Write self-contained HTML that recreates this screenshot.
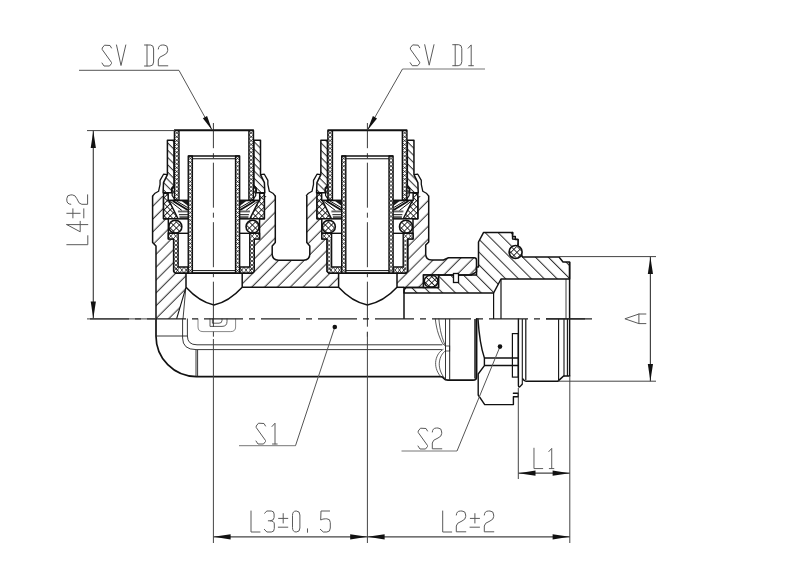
<!DOCTYPE html>
<html><head><meta charset="utf-8"><title>drawing</title>
<style>html,body{margin:0;padding:0;background:#fff;font-family:"Liberation Sans",sans-serif;}
svg{display:block}</style></head>
<body><svg width="800" height="580" viewBox="0 0 800 580">
<rect width="800" height="580" fill="#fff"/>
<defs>
<pattern id="hB" width="9.086" height="9.086" patternUnits="userSpaceOnUse" patternTransform="rotate(45)">
  <line x1="8.45" y1="-1" x2="8.45" y2="10" stroke="#111" stroke-width="0.9"/>
</pattern>
<pattern id="hN" width="9.086" height="9.086" patternUnits="userSpaceOnUse" patternTransform="rotate(-45)">
  <line x1="6.01" y1="-1" x2="6.01" y2="10" stroke="#111" stroke-width="0.9"/>
</pattern>
<pattern id="hNut" width="5.16" height="5.16" patternUnits="userSpaceOnUse" patternTransform="rotate(-45)">
  <line x1="2" y1="-1" x2="2" y2="7" stroke="#111" stroke-width="0.9"/>
</pattern>
<pattern id="xF" width="3.2" height="3.2" patternUnits="userSpaceOnUse" patternTransform="rotate(45)">
  <path d="M0,1.6H3.2M1.6,0V3.2" stroke="#1a1a1a" stroke-width="0.95" fill="none"/>
</pattern>
<pattern id="xC" width="4.3" height="4.3" patternUnits="userSpaceOnUse" patternTransform="rotate(45)">
  <path d="M0,2.15H4.3M2.15,0V4.3" stroke="#111" stroke-width="0.8" fill="none"/>
</pattern>
</defs>
<path d="M156,318.9 L156,246 L152.6,242.5 L152.6,196 L159.7,190.5 L268.2,190.5 L275.2,196 L275.2,242 L272.1,245 L272.1,254.5 Q272.1,260.2 277.8,260.2 L304.2,260.2 Q309.7,260.2 309.7,254.5 L309.7,245 L306.3,242 L306.3,196 L313.6,190.5 L421.5,190.5 L428.7,196 L428.7,242 L425.7,245 L425.7,254 Q425.7,260 431.8,260 L443.5,260 L448,257.8 L474.3,257.8 Q476.5,257.8 476.5,260.2 L476.5,271.8 L471,275 L423.5,275 L423.5,287.5 L404,287.5 L404,287.3 L185.8,287.3 L176.6,318.9 Z" fill="url(#hB)" stroke="none" stroke-width="1.5" stroke-linejoin="round" stroke-linecap="round" />
<path d="M156,318.9 L156,246 L152.6,242.5 L152.6,196" fill="none" stroke="#111" stroke-width="1.5" stroke-linejoin="round" stroke-linecap="round" />
<path d="M275.3,196 L275.3,242.5 L272.2,246 L272.2,254 Q272.2,260.2 278.5,260.2 L303.5,260.2 Q309.8,260.2 309.8,254 L309.8,246 L306.8,242.5 L306.8,196" fill="none" stroke="#111" stroke-width="1.5" stroke-linejoin="round" stroke-linecap="round" />
<path d="M428.7,196 L428.7,242 L425.7,245 L425.7,254 Q425.7,260 431.8,260 L443.5,260 L448,257.8 L474.3,257.8 Q476.5,257.8 476.5,260.2 L476.5,271.8 L471,275 L423.5,275 L423.5,287.5 L404,287.5" fill="none" stroke="#111" stroke-width="1.5" stroke-linejoin="round" stroke-linecap="round" />
<path d="M404,293 L404,290 L406,287.5 L438.5,287.5 L438.5,275 L476.5,275 L476.5,267 L478.5,267 L478.5,242 L483.6,232.4 L512.6,232.4 L512.6,239 L518,239.5 L518,246 L522.5,257 L559,257 L563,262 L569.6,262 L569.6,279 L501,279 L493.6,293 Z" fill="url(#hN)" stroke="#111" stroke-width="1.5" stroke-linejoin="round" stroke-linecap="round" />
<path d="M512.6,232.4 L512.6,236.5 L515.3,236.5 L515.3,239.5 L518,239.5 L518,245" fill="#fff" stroke="#111" stroke-width="1.5" stroke-linejoin="round" stroke-linecap="round" />
<rect x="423.5" y="275" width="15" height="12.5" fill="#fff" stroke="#111" stroke-width="1.5"/>
<rect x="424.3" y="275.6" width="13.6" height="11.4" rx="5.6" ry="5.4" fill="url(#xC)" stroke="#111" stroke-width="1.5"/>
<circle cx="515.6" cy="252" r="6.5" fill="#fff" stroke="#111" stroke-width="1.6"/>
<circle cx="515.6" cy="252" r="5.8" fill="url(#xC)" stroke="none"/>
<rect x="453.5" y="273.5" width="5" height="9" fill="#fff" stroke="#111" stroke-width="1.3"/>
<line x1="404.00" y1="287.50" x2="404.00" y2="318.90" stroke="#111" stroke-width="1.5" />
<line x1="493.60" y1="293.00" x2="493.60" y2="318.90" stroke="#111" stroke-width="1.2" />
<line x1="501.00" y1="279.00" x2="501.00" y2="318.90" stroke="#111" stroke-width="1.2" />
<line x1="566.00" y1="279.00" x2="566.00" y2="318.90" stroke="#111" stroke-width="0.8" />
<line x1="569.60" y1="262.00" x2="569.60" y2="318.90" stroke="#111" stroke-width="1.5" />
<polygon points="163.55,172.00 163.55,218.85 168.35,218.85 168.35,238.90 173.65,238.90 173.65,273.00 254.25,273.00 254.25,238.90 259.55,238.90 259.55,218.85 264.35,218.85 264.35,172.00" fill="#fff" stroke="none" stroke-width="1.5" stroke-linejoin="round" />
<path d="M186,273 L186,287.3 C194,296 203.95,303 213.95,305 C223.95,303 234.2,296 242.2,287.3 L242.2,273 Z" fill="#fff" stroke="#111" stroke-width="1.5" stroke-linejoin="round" stroke-linecap="round" />
<polyline points="163.55,193.20 163.55,218.85 168.35,218.85 168.35,238.90 173.65,238.90 173.65,271.50 175.45,273.20 191.95,273.20" fill="none" stroke="#111" stroke-width="1.5" stroke-linejoin="round" />
<polyline points="264.35,193.20 264.35,218.85 259.55,218.85 259.55,238.90 254.25,238.90 254.25,271.50 252.45,273.20 235.95,273.20" fill="none" stroke="#111" stroke-width="1.5" stroke-linejoin="round" />
<line x1="191.95" y1="273.20" x2="235.95" y2="273.20" stroke="#111" stroke-width="1.5" />
<line x1="192.15" y1="270.60" x2="235.75" y2="270.60" stroke="#111" stroke-width="1.0" />
<polygon points="152.65,196.00 155.05,193.20 158.55,191.30 160.05,184.30 160.05,180.40 163.55,174.20 167.45,174.60 163.55,182.70 163.15,192.80 163.15,196.00" fill="#fff" stroke="none" stroke-width="1.5" stroke-linejoin="round" />
<polyline points="152.65,196.00 155.05,193.20 158.55,191.30 160.05,184.30 160.05,180.40 163.55,174.20 167.45,174.60" fill="none" stroke="#111" stroke-width="1.3" stroke-linejoin="round" />
<polygon points="174.00,140.30 167.40,140.30 167.40,174.60 163.50,182.70 163.10,192.80 171.70,192.80 171.70,188.20 174.00,185.40" fill="#fff" stroke="none" stroke-width="1.5" stroke-linejoin="round" />
<polygon points="174.00,140.30 167.40,140.30 167.40,174.60 163.50,182.70 163.10,192.80 171.70,192.80 171.70,188.20 174.00,185.40" fill="url(#hNut)" stroke="#111" stroke-width="1.5" stroke-linejoin="round" />
<polygon points="174.40,130.30 179.00,130.30 179.00,200.50 174.40,200.50" fill="#fff" stroke="none" stroke-width="1.5" stroke-linejoin="round" />
<polyline points="174.40,131.00 179.00,134.86 174.40,138.72 179.00,142.58 174.40,146.44 179.00,150.31 174.40,154.17 179.00,158.03 174.40,161.89 179.00,165.75 174.40,169.61 179.00,173.47 174.40,177.33 179.00,181.19 174.40,185.06 179.00,188.92 174.40,192.78 179.00,196.64 174.40,200.50" fill="none" stroke="#111" stroke-width="0.75" stroke-linejoin="round" />
<polyline points="179.00,131.00 174.40,134.86 179.00,138.72 174.40,142.58 179.00,146.44 174.40,150.31 179.00,154.17 174.40,158.03 179.00,161.89 174.40,165.75 179.00,169.61 174.40,173.47 179.00,177.33 174.40,181.19 179.00,185.06 174.40,188.92 179.00,192.78 174.40,196.64 179.00,200.50" fill="none" stroke="#111" stroke-width="0.75" stroke-linejoin="round" />
<line x1="174.40" y1="130.30" x2="174.40" y2="200.00" stroke="#111" stroke-width="1.4" />
<line x1="179.00" y1="130.30" x2="179.00" y2="200.50" stroke="#111" stroke-width="1.4" />
<polygon points="174.40,186.50 172.15,189.00 172.15,195.50 174.45,199.00 177.95,200.50 174.40,200.50" fill="#fff" stroke="#111" stroke-width="1.2" stroke-linejoin="round" />
<line x1="172.15" y1="190.00" x2="174.35" y2="194.00" stroke="#111" stroke-width="0.7" />
<line x1="172.15" y1="194.00" x2="174.35" y2="190.00" stroke="#111" stroke-width="0.7" />
<line x1="168.20" y1="200.40" x2="188.25" y2="200.40" stroke="#111" stroke-width="1.7" />
<polygon points="163.55,193.20 168.20,193.20 168.20,200.40 168.85,200.40 177.65,218.00 177.65,218.85 163.55,218.85" fill="#fff" stroke="none" stroke-width="1.5" stroke-linejoin="round" />
<polygon points="163.55,193.20 168.20,193.20 168.20,200.40 168.85,200.40 177.65,218.00 177.65,218.85 163.55,218.85" fill="url(#xC)" stroke="#111" stroke-width="1.5" stroke-linejoin="round" />
<polygon points="180.95,200.40 188.25,200.40 188.25,206.00" fill="#1a1a1a" stroke="none" stroke-width="1.5" stroke-linejoin="round" />
<line x1="172.95" y1="201.00" x2="187.75" y2="210.00" stroke="#111" stroke-width="1.9" />
<line x1="176.45" y1="201.00" x2="187.75" y2="207.60" stroke="#111" stroke-width="1.0" />
<line x1="170.45" y1="201.50" x2="181.95" y2="210.50" stroke="#111" stroke-width="1.0" />
<rect x="177.95" y="210.5" width="10.3" height="1.9" fill="#666"/>
<line x1="178.95" y1="214.70" x2="188.25" y2="214.70" stroke="#111" stroke-width="1.0" />
<rect x="179.45" y="216.2" width="8.8" height="2.6" fill="#555"/>
<line x1="177.65" y1="218.85" x2="188.25" y2="218.85" stroke="#111" stroke-width="1.5" />
<circle cx="175.35" cy="226.7" r="6.5" fill="#fff" stroke="#111" stroke-width="1.6"/>
<circle cx="175.35" cy="226.7" r="5.8" fill="url(#xC)" stroke="none"/>
<polygon points="168.35,233.30 178.15,233.30 178.15,267.00 188.25,267.00 188.25,273.00 175.45,273.00 173.65,271.30 173.65,238.90 168.35,238.90" fill="#fff" stroke="none" stroke-width="1.5" stroke-linejoin="round" />
<polyline points="173.65,239.00 178.15,243.00 173.65,247.00 178.15,251.00 173.65,255.00 178.15,259.00 173.65,263.00 178.15,267.00 173.65,271.00" fill="none" stroke="#111" stroke-width="0.75" stroke-linejoin="round" />
<polyline points="178.15,239.00 173.65,243.00 178.15,247.00 173.65,251.00 178.15,255.00 173.65,259.00 178.15,263.00 173.65,267.00 178.15,271.00" fill="none" stroke="#111" stroke-width="0.75" stroke-linejoin="round" />
<polyline points="168.35,233.30 173.25,238.90 178.15,233.30" fill="none" stroke="#111" stroke-width="0.75" stroke-linejoin="round" />
<polyline points="168.35,238.90 173.25,233.30 178.15,238.90" fill="none" stroke="#111" stroke-width="0.75" stroke-linejoin="round" />
<polyline points="175.45,267.20 179.72,273.00 183.98,267.20 188.25,273.00" fill="none" stroke="#111" stroke-width="0.75" stroke-linejoin="round" />
<polyline points="175.45,273.00 179.72,267.20 183.98,273.00 188.25,267.20" fill="none" stroke="#111" stroke-width="0.75" stroke-linejoin="round" />
<polygon points="168.35,233.30 178.15,233.30 178.15,267.00 188.25,267.00 188.25,273.00 175.45,273.00 173.65,271.30 173.65,238.90 168.35,238.90" fill="none" stroke="#111" stroke-width="1.4" stroke-linejoin="round" />
<line x1="168.35" y1="233.30" x2="188.25" y2="233.30" stroke="#111" stroke-width="1.4" />
<polygon points="188.25,156.00 192.35,156.00 192.35,273.00 188.25,273.00" fill="#fff" stroke="none" stroke-width="1.5" stroke-linejoin="round" />
<polyline points="188.25,156.50 192.35,160.37 188.25,164.23 192.35,168.10 188.25,171.97 192.35,175.83 188.25,179.70 192.35,183.57 188.25,187.43 192.35,191.30 188.25,195.17 192.35,199.03 188.25,202.90 192.35,206.77 188.25,210.63 192.35,214.50 188.25,218.37 192.35,222.23 188.25,226.10 192.35,229.97 188.25,233.83 192.35,237.70 188.25,241.57 192.35,245.43 188.25,249.30 192.35,253.17 188.25,257.03 192.35,260.90 188.25,264.77 192.35,268.63 188.25,272.50" fill="none" stroke="#111" stroke-width="0.75" stroke-linejoin="round" />
<polyline points="192.35,156.50 188.25,160.37 192.35,164.23 188.25,168.10 192.35,171.97 188.25,175.83 192.35,179.70 188.25,183.57 192.35,187.43 188.25,191.30 192.35,195.17 188.25,199.03 192.35,202.90 188.25,206.77 192.35,210.63 188.25,214.50 192.35,218.37 188.25,222.23 192.35,226.10 188.25,229.97 192.35,233.83 188.25,237.70 192.35,241.57 188.25,245.43 192.35,249.30 188.25,253.17 192.35,257.03 188.25,260.90 192.35,264.77 188.25,268.63 192.35,272.50" fill="none" stroke="#111" stroke-width="0.75" stroke-linejoin="round" />
<polygon points="188.25,156.00 192.35,156.00 192.35,273.00 188.25,273.00" fill="none" stroke="#111" stroke-width="1.4" stroke-linejoin="round" />
<polygon points="275.25,196.00 272.85,193.20 269.35,191.30 267.85,184.30 267.85,180.40 264.35,174.20 260.45,174.60 264.35,182.70 264.75,192.80 264.75,196.00" fill="#fff" stroke="none" stroke-width="1.5" stroke-linejoin="round" />
<polyline points="275.25,196.00 272.85,193.20 269.35,191.30 267.85,184.30 267.85,180.40 264.35,174.20 260.45,174.60" fill="none" stroke="#111" stroke-width="1.3" stroke-linejoin="round" />
<polygon points="253.90,140.30 260.50,140.30 260.50,174.60 264.40,182.70 264.80,192.80 256.20,192.80 256.20,188.20 253.90,185.40" fill="#fff" stroke="none" stroke-width="1.5" stroke-linejoin="round" />
<polygon points="253.90,140.30 260.50,140.30 260.50,174.60 264.40,182.70 264.80,192.80 256.20,192.80 256.20,188.20 253.90,185.40" fill="url(#hNut)" stroke="#111" stroke-width="1.5" stroke-linejoin="round" />
<polygon points="253.50,130.30 248.90,130.30 248.90,200.50 253.50,200.50" fill="#fff" stroke="none" stroke-width="1.5" stroke-linejoin="round" />
<polyline points="248.90,131.00 253.50,134.86 248.90,138.72 253.50,142.58 248.90,146.44 253.50,150.31 248.90,154.17 253.50,158.03 248.90,161.89 253.50,165.75 248.90,169.61 253.50,173.47 248.90,177.33 253.50,181.19 248.90,185.06 253.50,188.92 248.90,192.78 253.50,196.64 248.90,200.50" fill="none" stroke="#111" stroke-width="0.75" stroke-linejoin="round" />
<polyline points="253.50,131.00 248.90,134.86 253.50,138.72 248.90,142.58 253.50,146.44 248.90,150.31 253.50,154.17 248.90,158.03 253.50,161.89 248.90,165.75 253.50,169.61 248.90,173.47 253.50,177.33 248.90,181.19 253.50,185.06 248.90,188.92 253.50,192.78 248.90,196.64 253.50,200.50" fill="none" stroke="#111" stroke-width="0.75" stroke-linejoin="round" />
<line x1="253.50" y1="130.30" x2="253.50" y2="200.00" stroke="#111" stroke-width="1.4" />
<line x1="248.90" y1="130.30" x2="248.90" y2="200.50" stroke="#111" stroke-width="1.4" />
<polygon points="253.50,186.50 255.75,189.00 255.75,195.50 253.45,199.00 249.95,200.50 253.50,200.50" fill="#fff" stroke="#111" stroke-width="1.2" stroke-linejoin="round" />
<line x1="255.75" y1="190.00" x2="253.55" y2="194.00" stroke="#111" stroke-width="0.7" />
<line x1="255.75" y1="194.00" x2="253.55" y2="190.00" stroke="#111" stroke-width="0.7" />
<line x1="259.70" y1="200.40" x2="239.65" y2="200.40" stroke="#111" stroke-width="1.7" />
<polygon points="264.35,193.20 259.70,193.20 259.70,200.40 259.05,200.40 250.25,218.00 250.25,218.85 264.35,218.85" fill="#fff" stroke="none" stroke-width="1.5" stroke-linejoin="round" />
<polygon points="264.35,193.20 259.70,193.20 259.70,200.40 259.05,200.40 250.25,218.00 250.25,218.85 264.35,218.85" fill="url(#xC)" stroke="#111" stroke-width="1.5" stroke-linejoin="round" />
<polygon points="246.95,200.40 239.65,200.40 239.65,206.00" fill="#1a1a1a" stroke="none" stroke-width="1.5" stroke-linejoin="round" />
<line x1="254.95" y1="201.00" x2="240.15" y2="210.00" stroke="#111" stroke-width="1.9" />
<line x1="251.45" y1="201.00" x2="240.15" y2="207.60" stroke="#111" stroke-width="1.0" />
<line x1="257.45" y1="201.50" x2="245.95" y2="210.50" stroke="#111" stroke-width="1.0" />
<rect x="239.65" y="210.5" width="10.3" height="1.9" fill="#666"/>
<line x1="248.95" y1="214.70" x2="239.65" y2="214.70" stroke="#111" stroke-width="1.0" />
<rect x="239.65" y="216.2" width="8.8" height="2.6" fill="#555"/>
<line x1="250.25" y1="218.85" x2="239.65" y2="218.85" stroke="#111" stroke-width="1.5" />
<circle cx="252.55" cy="226.7" r="6.5" fill="#fff" stroke="#111" stroke-width="1.6"/>
<circle cx="252.55" cy="226.7" r="5.8" fill="url(#xC)" stroke="none"/>
<polygon points="259.55,233.30 249.75,233.30 249.75,267.00 239.65,267.00 239.65,273.00 252.45,273.00 254.25,271.30 254.25,238.90 259.55,238.90" fill="#fff" stroke="none" stroke-width="1.5" stroke-linejoin="round" />
<polyline points="249.75,239.00 254.25,243.00 249.75,247.00 254.25,251.00 249.75,255.00 254.25,259.00 249.75,263.00 254.25,267.00 249.75,271.00" fill="none" stroke="#111" stroke-width="0.75" stroke-linejoin="round" />
<polyline points="254.25,239.00 249.75,243.00 254.25,247.00 249.75,251.00 254.25,255.00 249.75,259.00 254.25,263.00 249.75,267.00 254.25,271.00" fill="none" stroke="#111" stroke-width="0.75" stroke-linejoin="round" />
<polyline points="249.75,233.30 254.65,238.90 259.55,233.30" fill="none" stroke="#111" stroke-width="0.75" stroke-linejoin="round" />
<polyline points="249.75,238.90 254.65,233.30 259.55,238.90" fill="none" stroke="#111" stroke-width="0.75" stroke-linejoin="round" />
<polyline points="239.65,267.20 243.92,273.00 248.18,267.20 252.45,273.00" fill="none" stroke="#111" stroke-width="0.75" stroke-linejoin="round" />
<polyline points="239.65,273.00 243.92,267.20 248.18,273.00 252.45,267.20" fill="none" stroke="#111" stroke-width="0.75" stroke-linejoin="round" />
<polygon points="259.55,233.30 249.75,233.30 249.75,267.00 239.65,267.00 239.65,273.00 252.45,273.00 254.25,271.30 254.25,238.90 259.55,238.90" fill="none" stroke="#111" stroke-width="1.4" stroke-linejoin="round" />
<line x1="259.55" y1="233.30" x2="239.65" y2="233.30" stroke="#111" stroke-width="1.4" />
<polygon points="239.65,156.00 235.55,156.00 235.55,273.00 239.65,273.00" fill="#fff" stroke="none" stroke-width="1.5" stroke-linejoin="round" />
<polyline points="235.55,156.50 239.65,160.37 235.55,164.23 239.65,168.10 235.55,171.97 239.65,175.83 235.55,179.70 239.65,183.57 235.55,187.43 239.65,191.30 235.55,195.17 239.65,199.03 235.55,202.90 239.65,206.77 235.55,210.63 239.65,214.50 235.55,218.37 239.65,222.23 235.55,226.10 239.65,229.97 235.55,233.83 239.65,237.70 235.55,241.57 239.65,245.43 235.55,249.30 239.65,253.17 235.55,257.03 239.65,260.90 235.55,264.77 239.65,268.63 235.55,272.50" fill="none" stroke="#111" stroke-width="0.75" stroke-linejoin="round" />
<polyline points="239.65,156.50 235.55,160.37 239.65,164.23 235.55,168.10 239.65,171.97 235.55,175.83 239.65,179.70 235.55,183.57 239.65,187.43 235.55,191.30 239.65,195.17 235.55,199.03 239.65,202.90 235.55,206.77 239.65,210.63 235.55,214.50 239.65,218.37 235.55,222.23 239.65,226.10 235.55,229.97 239.65,233.83 235.55,237.70 239.65,241.57 235.55,245.43 239.65,249.30 235.55,253.17 239.65,257.03 235.55,260.90 239.65,264.77 235.55,268.63 239.65,272.50" fill="none" stroke="#111" stroke-width="0.75" stroke-linejoin="round" />
<polygon points="239.65,156.00 235.55,156.00 235.55,273.00 239.65,273.00" fill="none" stroke="#111" stroke-width="1.4" stroke-linejoin="round" />
<line x1="174.05" y1="130.30" x2="253.85" y2="130.30" stroke="#111" stroke-width="1.9" />
<line x1="188.25" y1="156.00" x2="239.65" y2="156.00" stroke="#111" stroke-width="1.6" />
<line x1="192.15" y1="158.80" x2="235.75" y2="158.80" stroke="#111" stroke-width="1.1" />
<polygon points="317.00,172.00 317.00,218.85 321.80,218.85 321.80,238.90 327.10,238.90 327.10,273.00 407.70,273.00 407.70,238.90 413.00,238.90 413.00,218.85 417.80,218.85 417.80,172.00" fill="#fff" stroke="none" stroke-width="1.5" stroke-linejoin="round" />
<path d="M338.6,273 L338.6,287.3 C346.6,296 357.4,303 367.4,305 C377.4,303 389,296 397,287.3 L397,273 Z" fill="#fff" stroke="#111" stroke-width="1.5" stroke-linejoin="round" stroke-linecap="round" />
<polyline points="317.00,193.20 317.00,218.85 321.80,218.85 321.80,238.90 327.10,238.90 327.10,271.50 328.90,273.20 345.40,273.20" fill="none" stroke="#111" stroke-width="1.5" stroke-linejoin="round" />
<polyline points="417.80,193.20 417.80,218.85 413.00,218.85 413.00,238.90 407.70,238.90 407.70,271.50 405.90,273.20 389.40,273.20" fill="none" stroke="#111" stroke-width="1.5" stroke-linejoin="round" />
<line x1="345.40" y1="273.20" x2="389.40" y2="273.20" stroke="#111" stroke-width="1.5" />
<line x1="345.60" y1="270.60" x2="389.20" y2="270.60" stroke="#111" stroke-width="1.0" />
<polygon points="306.10,196.00 308.50,193.20 312.00,191.30 313.50,184.30 313.50,180.40 317.00,174.20 320.90,174.60 317.00,182.70 316.60,192.80 316.60,196.00" fill="#fff" stroke="none" stroke-width="1.5" stroke-linejoin="round" />
<polyline points="306.10,196.00 308.50,193.20 312.00,191.30 313.50,184.30 313.50,180.40 317.00,174.20 320.90,174.60" fill="none" stroke="#111" stroke-width="1.3" stroke-linejoin="round" />
<polygon points="327.45,140.30 320.85,140.30 320.85,174.60 316.95,182.70 316.55,192.80 325.15,192.80 325.15,188.20 327.45,185.40" fill="#fff" stroke="none" stroke-width="1.5" stroke-linejoin="round" />
<polygon points="327.45,140.30 320.85,140.30 320.85,174.60 316.95,182.70 316.55,192.80 325.15,192.80 325.15,188.20 327.45,185.40" fill="url(#hNut)" stroke="#111" stroke-width="1.5" stroke-linejoin="round" />
<polygon points="327.85,130.30 332.45,130.30 332.45,200.50 327.85,200.50" fill="#fff" stroke="none" stroke-width="1.5" stroke-linejoin="round" />
<polyline points="327.85,131.00 332.45,134.86 327.85,138.72 332.45,142.58 327.85,146.44 332.45,150.31 327.85,154.17 332.45,158.03 327.85,161.89 332.45,165.75 327.85,169.61 332.45,173.47 327.85,177.33 332.45,181.19 327.85,185.06 332.45,188.92 327.85,192.78 332.45,196.64 327.85,200.50" fill="none" stroke="#111" stroke-width="0.75" stroke-linejoin="round" />
<polyline points="332.45,131.00 327.85,134.86 332.45,138.72 327.85,142.58 332.45,146.44 327.85,150.31 332.45,154.17 327.85,158.03 332.45,161.89 327.85,165.75 332.45,169.61 327.85,173.47 332.45,177.33 327.85,181.19 332.45,185.06 327.85,188.92 332.45,192.78 327.85,196.64 332.45,200.50" fill="none" stroke="#111" stroke-width="0.75" stroke-linejoin="round" />
<line x1="327.85" y1="130.30" x2="327.85" y2="200.00" stroke="#111" stroke-width="1.4" />
<line x1="332.45" y1="130.30" x2="332.45" y2="200.50" stroke="#111" stroke-width="1.4" />
<polygon points="327.85,186.50 325.60,189.00 325.60,195.50 327.90,199.00 331.40,200.50 327.85,200.50" fill="#fff" stroke="#111" stroke-width="1.2" stroke-linejoin="round" />
<line x1="325.60" y1="190.00" x2="327.80" y2="194.00" stroke="#111" stroke-width="0.7" />
<line x1="325.60" y1="194.00" x2="327.80" y2="190.00" stroke="#111" stroke-width="0.7" />
<line x1="321.65" y1="200.40" x2="341.70" y2="200.40" stroke="#111" stroke-width="1.7" />
<polygon points="317.00,193.20 321.65,193.20 321.65,200.40 322.30,200.40 331.10,218.00 331.10,218.85 317.00,218.85" fill="#fff" stroke="none" stroke-width="1.5" stroke-linejoin="round" />
<polygon points="317.00,193.20 321.65,193.20 321.65,200.40 322.30,200.40 331.10,218.00 331.10,218.85 317.00,218.85" fill="url(#xC)" stroke="#111" stroke-width="1.5" stroke-linejoin="round" />
<polygon points="334.40,200.40 341.70,200.40 341.70,206.00" fill="#1a1a1a" stroke="none" stroke-width="1.5" stroke-linejoin="round" />
<line x1="326.40" y1="201.00" x2="341.20" y2="210.00" stroke="#111" stroke-width="1.9" />
<line x1="329.90" y1="201.00" x2="341.20" y2="207.60" stroke="#111" stroke-width="1.0" />
<line x1="323.90" y1="201.50" x2="335.40" y2="210.50" stroke="#111" stroke-width="1.0" />
<rect x="331.40" y="210.5" width="10.3" height="1.9" fill="#666"/>
<line x1="332.40" y1="214.70" x2="341.70" y2="214.70" stroke="#111" stroke-width="1.0" />
<rect x="332.90" y="216.2" width="8.8" height="2.6" fill="#555"/>
<line x1="331.10" y1="218.85" x2="341.70" y2="218.85" stroke="#111" stroke-width="1.5" />
<circle cx="328.80" cy="226.7" r="6.5" fill="#fff" stroke="#111" stroke-width="1.6"/>
<circle cx="328.80" cy="226.7" r="5.8" fill="url(#xC)" stroke="none"/>
<polygon points="321.80,233.30 331.60,233.30 331.60,267.00 341.70,267.00 341.70,273.00 328.90,273.00 327.10,271.30 327.10,238.90 321.80,238.90" fill="#fff" stroke="none" stroke-width="1.5" stroke-linejoin="round" />
<polyline points="327.10,239.00 331.60,243.00 327.10,247.00 331.60,251.00 327.10,255.00 331.60,259.00 327.10,263.00 331.60,267.00 327.10,271.00" fill="none" stroke="#111" stroke-width="0.75" stroke-linejoin="round" />
<polyline points="331.60,239.00 327.10,243.00 331.60,247.00 327.10,251.00 331.60,255.00 327.10,259.00 331.60,263.00 327.10,267.00 331.60,271.00" fill="none" stroke="#111" stroke-width="0.75" stroke-linejoin="round" />
<polyline points="321.80,233.30 326.70,238.90 331.60,233.30" fill="none" stroke="#111" stroke-width="0.75" stroke-linejoin="round" />
<polyline points="321.80,238.90 326.70,233.30 331.60,238.90" fill="none" stroke="#111" stroke-width="0.75" stroke-linejoin="round" />
<polyline points="328.90,267.20 333.17,273.00 337.43,267.20 341.70,273.00" fill="none" stroke="#111" stroke-width="0.75" stroke-linejoin="round" />
<polyline points="328.90,273.00 333.17,267.20 337.43,273.00 341.70,267.20" fill="none" stroke="#111" stroke-width="0.75" stroke-linejoin="round" />
<polygon points="321.80,233.30 331.60,233.30 331.60,267.00 341.70,267.00 341.70,273.00 328.90,273.00 327.10,271.30 327.10,238.90 321.80,238.90" fill="none" stroke="#111" stroke-width="1.4" stroke-linejoin="round" />
<line x1="321.80" y1="233.30" x2="341.70" y2="233.30" stroke="#111" stroke-width="1.4" />
<polygon points="341.70,156.00 345.80,156.00 345.80,273.00 341.70,273.00" fill="#fff" stroke="none" stroke-width="1.5" stroke-linejoin="round" />
<polyline points="341.70,156.50 345.80,160.37 341.70,164.23 345.80,168.10 341.70,171.97 345.80,175.83 341.70,179.70 345.80,183.57 341.70,187.43 345.80,191.30 341.70,195.17 345.80,199.03 341.70,202.90 345.80,206.77 341.70,210.63 345.80,214.50 341.70,218.37 345.80,222.23 341.70,226.10 345.80,229.97 341.70,233.83 345.80,237.70 341.70,241.57 345.80,245.43 341.70,249.30 345.80,253.17 341.70,257.03 345.80,260.90 341.70,264.77 345.80,268.63 341.70,272.50" fill="none" stroke="#111" stroke-width="0.75" stroke-linejoin="round" />
<polyline points="345.80,156.50 341.70,160.37 345.80,164.23 341.70,168.10 345.80,171.97 341.70,175.83 345.80,179.70 341.70,183.57 345.80,187.43 341.70,191.30 345.80,195.17 341.70,199.03 345.80,202.90 341.70,206.77 345.80,210.63 341.70,214.50 345.80,218.37 341.70,222.23 345.80,226.10 341.70,229.97 345.80,233.83 341.70,237.70 345.80,241.57 341.70,245.43 345.80,249.30 341.70,253.17 345.80,257.03 341.70,260.90 345.80,264.77 341.70,268.63 345.80,272.50" fill="none" stroke="#111" stroke-width="0.75" stroke-linejoin="round" />
<polygon points="341.70,156.00 345.80,156.00 345.80,273.00 341.70,273.00" fill="none" stroke="#111" stroke-width="1.4" stroke-linejoin="round" />
<polygon points="428.70,196.00 426.30,193.20 422.80,191.30 421.30,184.30 421.30,180.40 417.80,174.20 413.90,174.60 417.80,182.70 418.20,192.80 418.20,196.00" fill="#fff" stroke="none" stroke-width="1.5" stroke-linejoin="round" />
<polyline points="428.70,196.00 426.30,193.20 422.80,191.30 421.30,184.30 421.30,180.40 417.80,174.20 413.90,174.60" fill="none" stroke="#111" stroke-width="1.3" stroke-linejoin="round" />
<polygon points="407.35,140.30 413.95,140.30 413.95,174.60 417.85,182.70 418.25,192.80 409.65,192.80 409.65,188.20 407.35,185.40" fill="#fff" stroke="none" stroke-width="1.5" stroke-linejoin="round" />
<polygon points="407.35,140.30 413.95,140.30 413.95,174.60 417.85,182.70 418.25,192.80 409.65,192.80 409.65,188.20 407.35,185.40" fill="url(#hNut)" stroke="#111" stroke-width="1.5" stroke-linejoin="round" />
<polygon points="406.95,130.30 402.35,130.30 402.35,200.50 406.95,200.50" fill="#fff" stroke="none" stroke-width="1.5" stroke-linejoin="round" />
<polyline points="402.35,131.00 406.95,134.86 402.35,138.72 406.95,142.58 402.35,146.44 406.95,150.31 402.35,154.17 406.95,158.03 402.35,161.89 406.95,165.75 402.35,169.61 406.95,173.47 402.35,177.33 406.95,181.19 402.35,185.06 406.95,188.92 402.35,192.78 406.95,196.64 402.35,200.50" fill="none" stroke="#111" stroke-width="0.75" stroke-linejoin="round" />
<polyline points="406.95,131.00 402.35,134.86 406.95,138.72 402.35,142.58 406.95,146.44 402.35,150.31 406.95,154.17 402.35,158.03 406.95,161.89 402.35,165.75 406.95,169.61 402.35,173.47 406.95,177.33 402.35,181.19 406.95,185.06 402.35,188.92 406.95,192.78 402.35,196.64 406.95,200.50" fill="none" stroke="#111" stroke-width="0.75" stroke-linejoin="round" />
<line x1="406.95" y1="130.30" x2="406.95" y2="200.00" stroke="#111" stroke-width="1.4" />
<line x1="402.35" y1="130.30" x2="402.35" y2="200.50" stroke="#111" stroke-width="1.4" />
<polygon points="406.95,186.50 409.20,189.00 409.20,195.50 406.90,199.00 403.40,200.50 406.95,200.50" fill="#fff" stroke="#111" stroke-width="1.2" stroke-linejoin="round" />
<line x1="409.20" y1="190.00" x2="407.00" y2="194.00" stroke="#111" stroke-width="0.7" />
<line x1="409.20" y1="194.00" x2="407.00" y2="190.00" stroke="#111" stroke-width="0.7" />
<line x1="413.15" y1="200.40" x2="393.10" y2="200.40" stroke="#111" stroke-width="1.7" />
<polygon points="417.80,193.20 413.15,193.20 413.15,200.40 412.50,200.40 403.70,218.00 403.70,218.85 417.80,218.85" fill="#fff" stroke="none" stroke-width="1.5" stroke-linejoin="round" />
<polygon points="417.80,193.20 413.15,193.20 413.15,200.40 412.50,200.40 403.70,218.00 403.70,218.85 417.80,218.85" fill="url(#xC)" stroke="#111" stroke-width="1.5" stroke-linejoin="round" />
<polygon points="400.40,200.40 393.10,200.40 393.10,206.00" fill="#1a1a1a" stroke="none" stroke-width="1.5" stroke-linejoin="round" />
<line x1="408.40" y1="201.00" x2="393.60" y2="210.00" stroke="#111" stroke-width="1.9" />
<line x1="404.90" y1="201.00" x2="393.60" y2="207.60" stroke="#111" stroke-width="1.0" />
<line x1="410.90" y1="201.50" x2="399.40" y2="210.50" stroke="#111" stroke-width="1.0" />
<rect x="393.10" y="210.5" width="10.3" height="1.9" fill="#666"/>
<line x1="402.40" y1="214.70" x2="393.10" y2="214.70" stroke="#111" stroke-width="1.0" />
<rect x="393.10" y="216.2" width="8.8" height="2.6" fill="#555"/>
<line x1="403.70" y1="218.85" x2="393.10" y2="218.85" stroke="#111" stroke-width="1.5" />
<circle cx="406.00" cy="226.7" r="6.5" fill="#fff" stroke="#111" stroke-width="1.6"/>
<circle cx="406.00" cy="226.7" r="5.8" fill="url(#xC)" stroke="none"/>
<polygon points="413.00,233.30 403.20,233.30 403.20,267.00 393.10,267.00 393.10,273.00 405.90,273.00 407.70,271.30 407.70,238.90 413.00,238.90" fill="#fff" stroke="none" stroke-width="1.5" stroke-linejoin="round" />
<polyline points="403.20,239.00 407.70,243.00 403.20,247.00 407.70,251.00 403.20,255.00 407.70,259.00 403.20,263.00 407.70,267.00 403.20,271.00" fill="none" stroke="#111" stroke-width="0.75" stroke-linejoin="round" />
<polyline points="407.70,239.00 403.20,243.00 407.70,247.00 403.20,251.00 407.70,255.00 403.20,259.00 407.70,263.00 403.20,267.00 407.70,271.00" fill="none" stroke="#111" stroke-width="0.75" stroke-linejoin="round" />
<polyline points="403.20,233.30 408.10,238.90 413.00,233.30" fill="none" stroke="#111" stroke-width="0.75" stroke-linejoin="round" />
<polyline points="403.20,238.90 408.10,233.30 413.00,238.90" fill="none" stroke="#111" stroke-width="0.75" stroke-linejoin="round" />
<polyline points="393.10,267.20 397.37,273.00 401.63,267.20 405.90,273.00" fill="none" stroke="#111" stroke-width="0.75" stroke-linejoin="round" />
<polyline points="393.10,273.00 397.37,267.20 401.63,273.00 405.90,267.20" fill="none" stroke="#111" stroke-width="0.75" stroke-linejoin="round" />
<polygon points="413.00,233.30 403.20,233.30 403.20,267.00 393.10,267.00 393.10,273.00 405.90,273.00 407.70,271.30 407.70,238.90 413.00,238.90" fill="none" stroke="#111" stroke-width="1.4" stroke-linejoin="round" />
<line x1="413.00" y1="233.30" x2="393.10" y2="233.30" stroke="#111" stroke-width="1.4" />
<polygon points="393.10,156.00 389.00,156.00 389.00,273.00 393.10,273.00" fill="#fff" stroke="none" stroke-width="1.5" stroke-linejoin="round" />
<polyline points="389.00,156.50 393.10,160.37 389.00,164.23 393.10,168.10 389.00,171.97 393.10,175.83 389.00,179.70 393.10,183.57 389.00,187.43 393.10,191.30 389.00,195.17 393.10,199.03 389.00,202.90 393.10,206.77 389.00,210.63 393.10,214.50 389.00,218.37 393.10,222.23 389.00,226.10 393.10,229.97 389.00,233.83 393.10,237.70 389.00,241.57 393.10,245.43 389.00,249.30 393.10,253.17 389.00,257.03 393.10,260.90 389.00,264.77 393.10,268.63 389.00,272.50" fill="none" stroke="#111" stroke-width="0.75" stroke-linejoin="round" />
<polyline points="393.10,156.50 389.00,160.37 393.10,164.23 389.00,168.10 393.10,171.97 389.00,175.83 393.10,179.70 389.00,183.57 393.10,187.43 389.00,191.30 393.10,195.17 389.00,199.03 393.10,202.90 389.00,206.77 393.10,210.63 389.00,214.50 393.10,218.37 389.00,222.23 393.10,226.10 389.00,229.97 393.10,233.83 389.00,237.70 393.10,241.57 389.00,245.43 393.10,249.30 389.00,253.17 393.10,257.03 389.00,260.90 393.10,264.77 389.00,268.63 393.10,272.50" fill="none" stroke="#111" stroke-width="0.75" stroke-linejoin="round" />
<polygon points="393.10,156.00 389.00,156.00 389.00,273.00 393.10,273.00" fill="none" stroke="#111" stroke-width="1.4" stroke-linejoin="round" />
<line x1="327.50" y1="130.30" x2="407.30" y2="130.30" stroke="#111" stroke-width="1.9" />
<line x1="341.70" y1="156.00" x2="393.10" y2="156.00" stroke="#111" stroke-width="1.6" />
<line x1="345.60" y1="158.80" x2="389.20" y2="158.80" stroke="#111" stroke-width="1.1" />
<line x1="242.20" y1="287.30" x2="338.60" y2="287.30" stroke="#111" stroke-width="1.5" />
<line x1="397.00" y1="287.30" x2="404.00" y2="287.30" stroke="#111" stroke-width="1.5" />
<line x1="185.80" y1="287.80" x2="176.60" y2="318.90" stroke="#111" stroke-width="1.1" />
<line x1="185.80" y1="287.80" x2="183.00" y2="318.90" stroke="#111" stroke-width="0.8" />
<path d="M156,318.9 L156,336 A40.4,40.4 0 0 0 196.4,376.6 L440,376.6 Q443,376.6 444,378.5 Q445,380.2 448,380.2 L473,380.2 Q476.6,380.2 476.6,377 L476.6,318.9" fill="none" stroke="#111" stroke-width="1.7" stroke-linejoin="round" stroke-linecap="round" />
<line x1="475.00" y1="318.90" x2="475.00" y2="378.50" stroke="#111" stroke-width="1.4" />
<line x1="156.00" y1="336.00" x2="187.40" y2="336.00" stroke="#222" stroke-width="0.9" />
<path d="M182.6,318.9 L182.6,338 Q182.6,349.6 196,349.6 L441.5,349.6" fill="none" stroke="#222" stroke-width="0.9" stroke-linejoin="round" stroke-linecap="round" />
<path d="M187.4,318.9 L187.4,336 Q187.4,344.8 197,344.8 L442,344.8" fill="none" stroke="#222" stroke-width="0.9" stroke-linejoin="round" stroke-linecap="round" />
<line x1="196.00" y1="350.00" x2="196.00" y2="376.60" stroke="#222" stroke-width="0.9" />
<line x1="197.60" y1="350.00" x2="197.60" y2="376.60" stroke="#222" stroke-width="0.9" />
<path d="M198,318.9 L198,327 Q198,331.6 203,331.6 L230.6,331.6 Q235.6,331.6 235.6,327 L235.6,318.9" fill="none" stroke="#555" stroke-width="0.7" stroke-linejoin="round" stroke-linecap="round" />
<path d="M210,318.9 L210,326.4 L222,326.4 Q227,326.4 227,321.5 L227,318.9" fill="none" stroke="#333" stroke-width="0.8" stroke-linejoin="round" stroke-linecap="round" />
<path d="M212.4,318.9 L212.4,323.2 L219,323.2 Q222,323.2 222,320.5 L222,318.9" fill="none" stroke="#333" stroke-width="0.8" stroke-linejoin="round" stroke-linecap="round" />
<path d="M435.3,318.9 C436.5,331 440,339 443.1,344.2 L445.5,346" fill="none" stroke="#333" stroke-width="0.8" stroke-linejoin="round" stroke-linecap="round" />
<path d="M438.9,318.9 C439.8,331 442.5,339 444.9,344.6" fill="none" stroke="#333" stroke-width="0.8" stroke-linejoin="round" stroke-linecap="round" />
<path d="M443.1,349.4 C436,353 431.5,366 440.7,376.6" fill="none" stroke="#333" stroke-width="0.8" stroke-linejoin="round" stroke-linecap="round" />
<path d="M445.2,351 C439.5,355 435.5,367 444.5,378.2" fill="none" stroke="#333" stroke-width="0.8" stroke-linejoin="round" stroke-linecap="round" />
<rect x="445.5" y="346" width="4.2" height="5" fill="none" stroke="#333" stroke-width="0.8"/>
<line x1="445.50" y1="318.90" x2="445.50" y2="379.60" stroke="#222" stroke-width="0.9" />
<line x1="449.70" y1="318.90" x2="449.70" y2="379.80" stroke="#222" stroke-width="1.0" />
<path d="M478,318.9 C479,335 481,348 484.4,358 L484.4,365.6 L478.2,374 L478.2,395 L484.7,404.6 L513.4,404.6 L513.4,396.8 L518.3,396.8 L518.3,393.2 L513.4,393.2" fill="none" stroke="#111" stroke-width="1.4" stroke-linejoin="round" stroke-linecap="round" />
<line x1="484.40" y1="358.00" x2="518.00" y2="358.00" stroke="#111" stroke-width="1.5" />
<line x1="484.40" y1="365.60" x2="518.00" y2="365.60" stroke="#111" stroke-width="1.5" />
<rect x="512.4" y="333.6" width="5.8" height="43.5" fill="none" stroke="#111" stroke-width="1.2"/>
<path d="M518.4,318.9 L518.4,385.5 Q518.6,387.6 520,386.6 L522.2,384.2" fill="none" stroke="#111" stroke-width="1.4" stroke-linejoin="round" stroke-linecap="round" />
<line x1="522.30" y1="318.90" x2="522.30" y2="384.00" stroke="#111" stroke-width="1.1" />
<line x1="525.80" y1="318.90" x2="525.80" y2="380.00" stroke="#111" stroke-width="1.2" />
<path d="M523,379 Q524,381.2 526,381.2 L558,381.2 L563.6,376 L569.6,376" fill="none" stroke="#111" stroke-width="1.6" stroke-linejoin="round" stroke-linecap="round" />
<line x1="569.60" y1="318.90" x2="569.60" y2="376.00" stroke="#111" stroke-width="1.5" />
<line x1="567.40" y1="318.90" x2="567.40" y2="376.00" stroke="#111" stroke-width="1.1" />
<line x1="564.00" y1="318.90" x2="564.00" y2="376.40" stroke="#111" stroke-width="1.1" />
<line x1="558.60" y1="318.90" x2="558.60" y2="381.00" stroke="#111" stroke-width="1.1" />
<line x1="90" y1="318.9" x2="585" y2="318.9" stroke="#222" stroke-width="1.1" stroke-dasharray="39,6,6,6"/>
<line x1="546" y1="318.9" x2="592" y2="318.9" stroke="#222" stroke-width="1.1"/>
<line x1="213.4" y1="123" x2="213.4" y2="337" stroke="#222" stroke-width="0.9" stroke-dasharray="45,5,5,4.5" stroke-dashoffset="19.8"/>
<line x1="367.4" y1="123" x2="367.4" y2="337" stroke="#222" stroke-width="0.9" stroke-dasharray="45,5,5,4.5" stroke-dashoffset="19.8"/>
<line x1="87.00" y1="130.60" x2="175.00" y2="130.60" stroke="#444" stroke-width="1.0" />
<line x1="87.00" y1="318.90" x2="156.00" y2="318.90" stroke="#444" stroke-width="1.0" />
<line x1="93.30" y1="130.60" x2="93.30" y2="318.90" stroke="#444" stroke-width="1.2" />
<polygon points="93.30,130.90 95.90,147.90 90.70,147.90" fill="#111"/>
<polygon points="93.30,318.60 90.70,301.60 95.90,301.60" fill="#111"/>
<line x1="559.00" y1="256.60" x2="656.00" y2="256.60" stroke="#444" stroke-width="1.0" />
<line x1="558.00" y1="381.20" x2="656.00" y2="381.20" stroke="#444" stroke-width="1.0" />
<line x1="650.40" y1="256.60" x2="650.40" y2="381.20" stroke="#444" stroke-width="1.2" />
<polygon points="650.40,256.90 653.00,273.90 647.80,273.90" fill="#111"/>
<polygon points="650.40,380.90 647.80,363.90 653.00,363.90" fill="#111"/>
<line x1="213.40" y1="339.00" x2="213.40" y2="543.00" stroke="#444" stroke-width="1.0" />
<line x1="367.40" y1="332.00" x2="367.40" y2="543.00" stroke="#444" stroke-width="1.0" />
<line x1="569.80" y1="376.00" x2="569.80" y2="543.00" stroke="#444" stroke-width="1.0" />
<line x1="518.30" y1="388.00" x2="518.30" y2="479.00" stroke="#444" stroke-width="1.0" />
<line x1="213.40" y1="536.80" x2="569.80" y2="536.80" stroke="#444" stroke-width="1.2" />
<polygon points="213.60,536.80 230.60,534.20 230.60,539.40" fill="#111"/>
<polygon points="367.20,536.80 350.20,539.40 350.20,534.20" fill="#111"/>
<polygon points="367.60,536.80 384.60,534.20 384.60,539.40" fill="#111"/>
<polygon points="569.60,536.80 552.60,539.40 552.60,534.20" fill="#111"/>
<line x1="518.30" y1="473.20" x2="569.80" y2="473.20" stroke="#444" stroke-width="1.2" />
<polygon points="518.50,473.20 535.50,470.60 535.50,475.80" fill="#111"/>
<polygon points="569.60,473.20 552.60,475.80 552.60,470.60" fill="#111"/>
<line x1="79.00" y1="70.40" x2="179.00" y2="70.40" stroke="#777" stroke-width="1.1" />
<line x1="179.00" y1="70.40" x2="212.00" y2="130.00" stroke="#555" stroke-width="1.0" />
<polygon points="212.20,130.30 202.85,118.33 207.05,116.01" fill="#111"/>
<line x1="402.50" y1="69.00" x2="485.00" y2="69.00" stroke="#777" stroke-width="1.1" />
<line x1="402.50" y1="69.00" x2="367.60" y2="130.00" stroke="#555" stroke-width="1.0" />
<polygon points="367.50,130.30 372.85,116.08 377.02,118.46" fill="#111"/>
<line x1="239.00" y1="445.70" x2="295.50" y2="445.70" stroke="#777" stroke-width="1.0" />
<line x1="295.50" y1="445.70" x2="334.80" y2="327.00" stroke="#555" stroke-width="1.0" />
<circle cx="334.8" cy="327" r="2.3" fill="#111"/>
<line x1="401.50" y1="451.00" x2="457.00" y2="451.00" stroke="#777" stroke-width="1.0" />
<line x1="457.00" y1="451.00" x2="500.00" y2="346.60" stroke="#555" stroke-width="1.0" />
<circle cx="500" cy="346.6" r="2.3" fill="#111"/>
<g transform="translate(102,45) rotate(0) scale(1.0)" fill="none" stroke="#5a5a5a" stroke-width="1.0" stroke-linecap="round" stroke-linejoin="round">
<path transform="translate(0,0)" d="M9.5,3 L8,0.5 L2.5,0.2 L0.2,3 L0.2,4.5 L9.5,17.5 L9.5,18.5 L7.5,21 L2,21 L0,18"/>
<path transform="translate(14,0)" d="M0.5,0 L5,20.5 L9.8,0"/>
<path transform="translate(42,0)" d="M0.5,0 H6.5 Q9.6,0 9.6,4 V17 Q9.6,21 6,21 H0.5 M3,0 V21"/>
<path transform="translate(56,0)" d="M0.3,4 Q0.5,0 4.5,0 H6 Q9.7,0 9.7,4 V5.5 Q9.7,8.5 6,10 Q0.3,12 0.3,15 V20.8 H9.8"/>
</g>
<g transform="translate(410.2,44.7) rotate(0) scale(1.0)" fill="none" stroke="#5a5a5a" stroke-width="1.0" stroke-linecap="round" stroke-linejoin="round">
<path transform="translate(0,0)" d="M9.5,3 L8,0.5 L2.5,0.2 L0.2,3 L0.2,4.5 L9.5,17.5 L9.5,18.5 L7.5,21 L2,21 L0,18"/>
<path transform="translate(14,0)" d="M0.5,0 L5,20.5 L9.8,0"/>
<path transform="translate(42,0)" d="M0.5,0 H6.5 Q9.6,0 9.6,4 V17 Q9.6,21 6,21 H0.5 M3,0 V21"/>
<path transform="translate(56,0)" d="M2,3.5 L5,0.2 V21 M2.5,21 H7.2"/>
</g>
<g transform="translate(256,423) rotate(0) scale(1.0)" fill="none" stroke="#5a5a5a" stroke-width="1.0" stroke-linecap="round" stroke-linejoin="round">
<path transform="translate(0,0)" d="M9.5,3 L8,0.5 L2.5,0.2 L0.2,3 L0.2,4.5 L9.5,17.5 L9.5,18.5 L7.5,21 L2,21 L0,18"/>
<path transform="translate(14,0)" d="M2,3.5 L5,0.2 V21 M2.5,21 H7.2"/>
</g>
<g transform="translate(418,428) rotate(0) scale(1.0)" fill="none" stroke="#5a5a5a" stroke-width="1.0" stroke-linecap="round" stroke-linejoin="round">
<path transform="translate(0,0)" d="M9.5,3 L8,0.5 L2.5,0.2 L0.2,3 L0.2,4.5 L9.5,17.5 L9.5,18.5 L7.5,21 L2,21 L0,18"/>
<path transform="translate(14,0)" d="M0.3,4 Q0.5,0 4.5,0 H6 Q9.7,0 9.7,4 V5.5 Q9.7,8.5 6,10 Q0.3,12 0.3,15 V20.8 H9.8"/>
</g>
<g transform="translate(533.3,448.2) rotate(0) scale(0.97)" fill="none" stroke="#5a5a5a" stroke-width="1.0" stroke-linecap="round" stroke-linejoin="round">
<path transform="translate(0,0)" d="M0.7,0 V21 H9.7"/>
<path transform="translate(14,0)" d="M2,3.5 L5,0.2 V21 M2.5,21 H7.2"/>
</g>
<g transform="translate(250.3,511) rotate(0) scale(1.0)" fill="none" stroke="#5a5a5a" stroke-width="1.0" stroke-linecap="round" stroke-linejoin="round">
<path transform="translate(0,0)" d="M0.7,0 V21 H9.7"/>
<path transform="translate(14,0)" d="M0.3,2.2 L2.6,0 H7 Q9.8,0.2 9.8,3 V6.5 Q9.8,9.5 6,9.8 H4 M6,9.8 Q10,10 10,13 V17.5 Q10,21 7,21 H2.6 L0,18.3"/>
<path transform="translate(28,0)" d="M0.3,7.4 H9.5 M4.9,2.6 V12 M0,16.2 H9.5"/>
<path transform="translate(42,0)" d="M0.2,4 Q0.2,0 3.9,0 Q7.6,0 7.6,4 V17 Q7.6,21 3.9,21 Q0.2,21 0.2,17 Z"/>
<path transform="translate(56,0)" d="M1.2,17.8 V21.3"/>
<path transform="translate(70,0)" d="M9.3,0 H0.7 L0.4,9 Q2.5,7.8 5,7.8 H6.5 Q10,7.8 10,11.5 V17 Q10,21 6.5,21 H3 L0,18.3"/>
</g>
<g transform="translate(442,511) rotate(0) scale(1.0)" fill="none" stroke="#5a5a5a" stroke-width="1.0" stroke-linecap="round" stroke-linejoin="round">
<path transform="translate(0,0)" d="M0.7,0 V21 H9.7"/>
<path transform="translate(14,0)" d="M0.3,4 Q0.5,0 4.5,0 H6 Q9.7,0 9.7,4 V5.5 Q9.7,8.5 6,10 Q0.3,12 0.3,15 V20.8 H9.8"/>
<path transform="translate(28,0)" d="M0.3,7.4 H9.5 M4.9,2.6 V12 M0,16.2 H9.5"/>
<path transform="translate(42,0)" d="M0.3,4 Q0.5,0 4.5,0 H6 Q9.7,0 9.7,4 V5.5 Q9.7,8.5 6,10 Q0.3,12 0.3,15 V20.8 H9.8"/>
</g>
<g transform="translate(66.8,245.4) rotate(-90) scale(1.0)" fill="none" stroke="#5a5a5a" stroke-width="1.0" stroke-linecap="round" stroke-linejoin="round">
<path transform="translate(0.0,0)" d="M0.7,0 V21 H9.7"/>
<path transform="translate(13.6,0)" d="M7.2,0 L0,13.4 H10.5 M7.2,0 V21"/>
<path transform="translate(27.2,0)" d="M0.3,6.1 H9.4 M4.9,0 V13.3 M0.3,17 H9.4"/>
<path transform="translate(40.8,0)" d="M0.3,4 Q0.5,0 4.5,0 H6 Q9.7,0 9.7,4 V5.5 Q9.7,8.5 6,10 Q0.3,12 0.3,15 V20.8 H9.8"/>
</g>
<g transform="translate(624.9,323.6) rotate(-90) scale(1.0)" fill="none" stroke="#5a5a5a" stroke-width="1.0" stroke-linecap="round" stroke-linejoin="round">
<path transform="translate(0,0)" d="M0,21 V14 L4.8,0 L9.6,14 V21 M0,14 H9.6"/>
</g>
</svg></body></html>
